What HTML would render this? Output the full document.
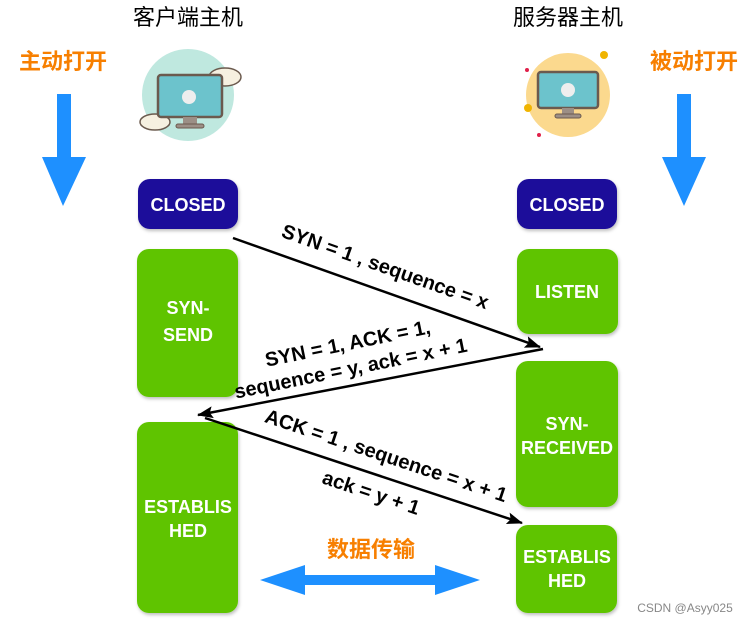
<!DOCTYPE html>
<html><head><meta charset="utf-8"><style>
html,body{margin:0;padding:0;background:#fff;}
svg{display:block;}
text{font-family:"Liberation Sans","Noto Sans CJK SC",sans-serif;}
</style></head><body>
<svg width="748" height="623" viewBox="0 0 748 623" xmlns="http://www.w3.org/2000/svg">
<defs>
<marker id="ah" markerWidth="16" markerHeight="12" refX="15" refY="6" orient="auto" markerUnits="userSpaceOnUse" viewBox="0 0 16 12"><path d="M0,0 L16,6 L0,12 L3,6 Z" fill="#000"/></marker>
<filter id="sh" x="-10%" y="-10%" width="130%" height="130%"><feDropShadow dx="1" dy="2" stdDeviation="1.5" flood-color="#000" flood-opacity="0.25"/></filter>
</defs>
<text x="188" y="25" font-size="22" text-anchor="middle" fill="#000">客户端主机</text>
<text x="568" y="25" font-size="22" text-anchor="middle" fill="#000">服务器主机</text>
<text x="63" y="69" font-size="22" font-weight="bold" text-anchor="middle" fill="#f77f00">主动打开</text>
<text x="694" y="69" font-size="22" font-weight="bold" text-anchor="middle" fill="#f77f00">被动打开</text>
<path d="M57,94 H71 V157 H86 L63,206 L42,157 H57 Z" fill="#1e90ff"/>
<path d="M677,94 H691 V157 H706 L684,206 L662,157 H677 Z" fill="#1e90ff"/>
<circle cx="188" cy="95" r="46" fill="#bfe8df"/>
<ellipse cx="225" cy="77" rx="16" ry="9" fill="#f6f0e0" stroke="#6b5a4e" stroke-width="1.5"/>
<ellipse cx="155" cy="122" rx="15" ry="8" fill="#f6f0e0" stroke="#6b5a4e" stroke-width="1.5"/>
<rect x="158" y="75" width="64" height="42" rx="3" fill="#6cc3cc" stroke="#6b5a4e" stroke-width="2.5"/>
<rect x="183" y="117" width="14" height="7" fill="#9c8f86"/>
<rect x="176" y="124" width="28" height="4" rx="2" fill="#9c8f86" stroke="#6b5a4e"/>
<circle cx="189" cy="97" r="7" fill="#eee"/>
<circle cx="568" cy="95" r="42" fill="#fbd98e"/>
<circle cx="604" cy="55" r="4" fill="#f0b400"/>
<circle cx="527" cy="70" r="2" fill="#e0204a"/>
<circle cx="539" cy="135" r="2" fill="#e0204a"/>
<circle cx="528" cy="108" r="4" fill="#f0b400"/>
<rect x="538" y="72" width="60" height="36" rx="3" fill="#6cc3cc" stroke="#6b5a4e" stroke-width="2.5"/>
<rect x="562" y="108" width="12" height="6" fill="#9c8f86"/>
<rect x="555" y="114" width="26" height="4" rx="2" fill="#9c8f86" stroke="#6b5a4e"/>
<circle cx="568" cy="90" r="7" fill="#eee"/>
<g filter="url(#sh)">
<rect x="138" y="179" width="100" height="50" rx="12" fill="#1a0a9a"/>
<rect x="517" y="179" width="100" height="50" rx="12" fill="#1a0a9a"/>
<rect x="137" y="249" width="101" height="148" rx="12" fill="#5fc400"/>
<rect x="517" y="249" width="101" height="85" rx="12" fill="#5fc400"/>
<rect x="516" y="361" width="102" height="146" rx="12" fill="#5fc400"/>
<rect x="137" y="422" width="101" height="191" rx="12" fill="#5fc400"/>
<rect x="516" y="525" width="101" height="88" rx="12" fill="#5fc400"/>
</g>
<g fill="#fff" font-size="18" font-weight="bold" text-anchor="middle">
<text x="188" y="211">CLOSED</text>
<text x="567" y="211">CLOSED</text>
<text x="188" y="314">SYN-</text>
<text x="188" y="341">SEND</text>
<text x="567" y="298">LISTEN</text>
<text x="567" y="430">SYN-</text>
<text x="567" y="454">RECEIVED</text>
<text x="188" y="513">ESTABLIS</text>
<text x="188" y="537">HED</text>
<text x="567" y="563">ESTABLIS</text>
<text x="567" y="587">HED</text>
</g>
<g stroke="#000" stroke-width="2.5" fill="none">
<line x1="233" y1="238" x2="540" y2="347" marker-end="url(#ah)"/>
<line x1="543" y1="349" x2="198" y2="415" marker-end="url(#ah)"/>
<line x1="205" y1="418" x2="522" y2="523" marker-end="url(#ah)"/>
</g>
<g fill="#000" font-size="20" font-weight="bold" text-anchor="middle">
<text transform="translate(383,273) rotate(19.5)">SYN = 1 , sequence = x</text>
<text transform="translate(349,350) rotate(-11.5)">SYN = 1, ACK = 1,</text>
<text transform="translate(352,375) rotate(-11.5)">sequence = y, ack = x + 1</text>
<text transform="translate(384,462) rotate(18.5)">ACK = 1 , sequence = x + 1</text>
<text transform="translate(369,499) rotate(18.5)">ack = y + 1</text>
</g>
<text x="371" y="557" font-size="22" font-weight="bold" text-anchor="middle" fill="#f77f00">数据传输</text>
<path d="M260,580 L305,565 V575 H435 V565 L480,580 L435,595 V585 H305 V595 Z" fill="#1e90ff"/>
<text x="685" y="612" font-size="12" text-anchor="middle" fill="#888">CSDN @Asyy025</text>
</svg>
</body></html>
